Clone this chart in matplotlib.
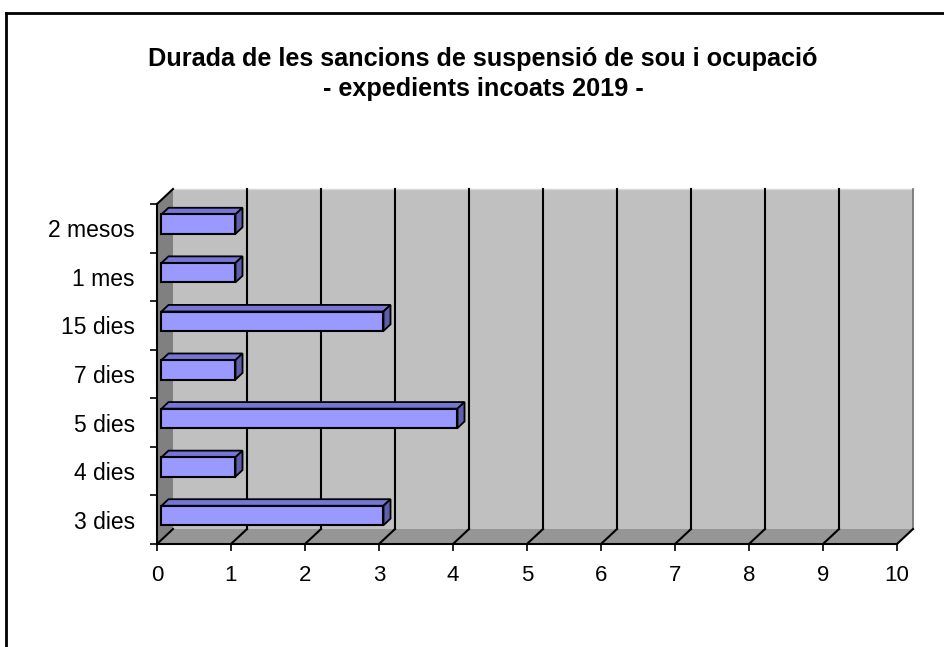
import matplotlib
matplotlib.use("Agg")
import matplotlib.pyplot as plt
from matplotlib.patches import Polygon
from matplotlib.lines import Line2D

# data
categories = ["3 dies", "4 dies", "5 dies", "7 dies", "15 dies", "1 mes", "2 mesos"]
values = [3, 1, 4, 1, 3, 1, 1]
x_ticks = list(range(0, 11))
title = "Durada de les sancions de suspensió de sou i ocupació\n- expedients incoats 2019 -"

plt.rcParams['font.family'] = ['Liberation Sans', 'DejaVu Sans']

fig = plt.figure(figsize=(9.44, 6.47), dpi=100)
ax = fig.add_axes([157 / 944, 103 / 647, 740 / 944, 340 / 647])

n = len(categories)
xmax = x_ticks[-1]
y0, y1 = -0.5, n - 0.5
ax.set_xlim(0, xmax)
ax.set_ylim(y0, y1)

# depth of the fake 3d box (data units)
dx, dy = 16 / 74, 15 / 48.6

# back wall, left wall, floor
ax.add_patch(Polygon([(dx, y0 + dy), (xmax + dx, y0 + dy), (xmax + dx, y1 + dy), (dx, y1 + dy)],
                     closed=True, facecolor='#c0c0c0', edgecolor='none', clip_on=False, zorder=0.5))
ax.add_patch(Polygon([(0, y0), (dx, y0 + dy), (dx, y1 + dy), (0, y1)],
                     closed=True, facecolor='#808080', edgecolor='none', clip_on=False, zorder=0.6))
ax.add_patch(Polygon([(0, y0), (xmax, y0), (xmax + dx, y0 + dy), (dx, y0 + dy)],
                     closed=True, facecolor='#969696', edgecolor='none', clip_on=False, zorder=0.6))

# edges of the box
ax.plot([dx, xmax + dx], [y1 + dy, y1 + dy], color='#d8d8d8', lw=1, clip_on=False, zorder=0.7)
ax.plot([0, dx], [y1, y1 + dy], color='black', lw=1.5, clip_on=False, zorder=0.8)
ax.plot([xmax + dx, xmax + dx], [y0 + dy, y1 + dy], color='#707070', lw=1.2, clip_on=False, zorder=0.8)

# gridlines on back wall + floor diagonals
for t in x_ticks:
    if 0 < t < xmax:
        ax.plot([t + dx, t + dx], [y0 + dy, y1 + dy], color='black', lw=1.5, clip_on=False, zorder=0.8)
    ax.plot([t, t + dx], [y0, y0 + dy], color='black', lw=1.5, clip_on=False, zorder=0.8)

# bars: front face, top face, side face
f0, f1 = 0.28, 0.72
h = 0.2
ypos = list(range(n))
ax.barh([y + f0 * dy for y in ypos], values, height=2 * h, left=f0 * dx,
        color='#9999ff', edgecolor='black', linewidth=1.5, zorder=4, clip_on=False)
for y, v in zip(ypos, values):
    top = [(f0 * dx, y + h + f0 * dy), (v + f0 * dx, y + h + f0 * dy),
           (v + f1 * dx, y + h + f1 * dy), (f1 * dx, y + h + f1 * dy)]
    side = [(v + f0 * dx, y - h + f0 * dy), (v + f1 * dx, y - h + f1 * dy),
            (v + f1 * dx, y + h + f1 * dy), (v + f0 * dx, y + h + f0 * dy)]
    ax.add_patch(Polygon(top, closed=True, facecolor='#7676d6', edgecolor='black',
                         lw=1.3, clip_on=False, zorder=3.5))
    ax.add_patch(Polygon(side, closed=True, facecolor='#5e5eac', edgecolor='black',
                         lw=1.3, clip_on=False, zorder=3.5))

# front axes
for s in ['top', 'right']:
    ax.spines[s].set_visible(False)
for s in ['left', 'bottom']:
    ax.spines[s].set_linewidth(1.5)
    ax.spines[s].set_zorder(5)

ax.set_xticks(x_ticks)
ax.tick_params(axis='x', length=5, width=1.2, labelsize=16, pad=10)
ax.set_yticks([y0 + i for i in range(n + 1)])
ax.set_yticklabels([])
ax.tick_params(axis='y', which='major', length=5, width=1.2)
ax.set_yticks(ypos, minor=True)
ax.set_yticklabels(categories, minor=True)
ax.tick_params(axis='y', which='minor', length=0, labelsize=16.5, pad=16)

fig.text(483 / 944, 1 - 74 / 647, title, ha='center', va='center',
         fontsize=18.2, fontweight='bold', linespacing=1.3)

# frame lines of the chart area
fig.add_artist(Line2D([6 / 944, 1], [1 - 12.5 / 647] * 2, transform=fig.transFigure, color='black', lw=2))
fig.add_artist(Line2D([6 / 944] * 2, [0, 1 - 12.5 / 647], transform=fig.transFigure, color='black', lw=2))

fig.savefig('out.png', dpi=100)
